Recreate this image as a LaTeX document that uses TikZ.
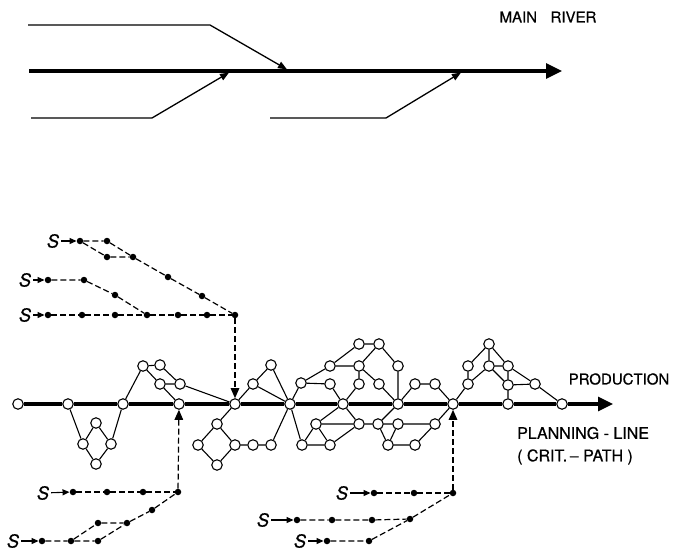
\documentclass[tikz,border=0pt]{standalone}
\usepackage{fontspec}
\setmainfont{TeX Gyre Heros}
\newfontfamily\lblfont[FakeBold=0.6]{TeX Gyre Heros}
\usetikzlibrary{arrows.meta}
\begin{document}
\begin{tikzpicture}[x=1pt,y=-1pt,
  nd/.style={circle,draw,fill=white,inner sep=0pt,minimum size=10.5pt,line width=1.1pt},
  dt/.style={circle,fill=black,inner sep=0pt,minimum size=6.5pt},
  edg/.style={line width=1.1pt},
  mainl/.style={line width=3.2pt},
  dsh/.style={line width=1.2pt,dash pattern=on 6pt off 3pt},
  trib/.style={line width=1.3pt},
  lbl/.style={font=\lblfont\fontsize{15}{17}\selectfont, inner sep=0pt},
  lblb/.style={font=\lblfont\fontsize{16}{18}\selectfont, inner sep=0pt},
  slbl/.style={font=\lblfont\fontsize{18}{20}\selectfont\itshape, inner sep=0pt},
  sarr/.style={line width=1.1pt,shorten <=2pt,-{Triangle[length=7pt,width=6pt]}},
  darr/.style={dsh,-{Triangle[length=10pt,width=8.5pt]}},
]
\useasboundingbox (0,0) rectangle (674,551);
% ---------------- main river ----------------
\coordinate (r0) at (29,71);
\coordinate (rE) at (562,71);
\draw[mainl,-{Triangle[length=16pt,width=15pt]}] (r0) -- (rE);
\coordinate (t1a) at (28,25); \coordinate (t1b) at (210,25); \coordinate (t1c) at (287,69.4);
\coordinate (t2a) at (31,118); \coordinate (t2b) at (152,118); \coordinate (t2c) at (229,72.6);
\coordinate (t3a) at (270,118); \coordinate (t3b) at (386,118); \coordinate (t3c) at (461,72.6);
\draw[trib,-{Triangle[length=9pt,width=7pt]}] (t1a) -- (t1b) -- (t1c);
\draw[trib,-{Triangle[length=9pt,width=7pt]}] (t2a) -- (t2b) -- (t2c);
\draw[trib,-{Triangle[length=9pt,width=7pt]}] (t3a) -- (t3b) -- (t3c);
\node[lbl] (mr) at (548,17) {MAIN\hspace{0.9em}RIVER};
% ---------------- production line nodes ----------------
\node[nd] (m1) at (18,404) {};
\node[nd] (m2) at (68,404) {};
\node[nd] (m3) at (123,404) {};
\node[nd] (m4) at (179,404) {};
\node[nd] (m5) at (235,404) {};
\node[nd] (m6) at (290,404) {};
\node[nd] (m7) at (343,404) {};
\node[nd] (m8) at (398,404) {};
\node[nd] (m9) at (453,404) {};
\node[nd] (m10) at (508,404) {};
\node[nd] (m11) at (562,404) {};
\coordinate (pE) at (613,404);
\draw[mainl] (m1) -- (m2) -- (m3) -- (m4) -- (m5) -- (m6) -- (m7) -- (m8) -- (m9) -- (m10) -- (m11);
\draw[mainl,-{Triangle[length=15pt,width=14pt]}] (m11) -- (pE);
% diamond A
\node[nd] (a1) at (96,423) {};
\node[nd] (a2) at (83,444) {};
\node[nd] (a3) at (111,444) {};
\node[nd] (a4) at (96,464) {};
\draw[edg] (m2) -- (a2) (m3) -- (a3) (a2) -- (a1) -- (a3) (a2) -- (a4) -- (a3);
% upper B
\node[nd] (b1) at (143,366) {};
\node[nd] (b2) at (160,365) {};
\node[nd] (b3) at (160,384) {};
\node[nd] (b4) at (180,384) {};
\draw[edg] (m3) -- (b1) -- (b2) (b1) -- (b3) -- (m4) (b2) -- (b4) (b3) -- (b4) -- (m5);
% diamond C
\node[nd] (c1) at (217,424) {};
\node[nd] (c2) at (198,445) {};
\node[nd] (c3) at (235,445) {};
\node[nd] (c4) at (217,465) {};
\node[nd] (d1) at (253,445) {};
\node[nd] (d2) at (271,445) {};
\draw[edg] (m5) -- (c1) -- (c2) -- (c4) -- (c3) -- (c1) (c3) -- (d1) -- (d2) -- (m6);
% upper D
\node[nd] (e1) at (253,384) {};
\node[nd] (e2) at (271,365) {};
\draw[edg] (m5) -- (e1) -- (e2) -- (m6) (e1) -- (m6);
% lower middle
\node[nd] (f1) at (302,445) {};
\node[nd] (f2) at (316,424) {};
\node[nd] (f3) at (330,445) {};
\node[nd] (f4) at (359,424) {};
\node[nd] (f5) at (378,424) {};
\node[nd] (f6) at (398,424) {};
\node[nd] (f7) at (388,445) {};
\node[nd] (f8) at (415,445) {};
\node[nd] (f9) at (435,424) {};
\draw[edg] (m6) -- (f1) -- (f2) -- (f3) -- (f1) (f2) -- (m7) (f2) -- (f4) (f3) -- (f4) (m7) -- (f4) -- (f5) -- (m8)
  (f5) -- (f7) (f5) -- (f6) -- (f7) -- (f8) -- (f9) -- (f6) (f9) -- (m9);
% upper middle
\node[nd] (g1) at (301,383) {};
\node[nd] (g2) at (330,366) {};
\node[nd] (g3) at (330,384) {};
\node[nd] (g4) at (359,344) {};
\node[nd] (g5) at (379,344) {};
\node[nd] (g6) at (359,366) {};
\node[nd] (g7) at (359,384) {};
\node[nd] (g8) at (379,384) {};
\node[nd] (g9) at (398,366) {};
\node[nd] (h1) at (415,384) {};
\node[nd] (h2) at (435,384) {};
\draw[edg] (m6) -- (g1) -- (g2) (g1) -- (g3) (g2) -- (g4) -- (g5) (g2) -- (g6) (g5) -- (g6) (g5) -- (g9) -- (m8)
  (g6) -- (g7) (g6) -- (g8) -- (m8) (g3) -- (m7) (g7) -- (m7) (m8) -- (h1) -- (h2) -- (m9);
% right cluster
\node[nd] (k1) at (468,384) {};
\node[nd] (k2) at (468,366) {};
\node[nd] (k3) at (489,344) {};
\node[nd] (k4) at (489,366) {};
\node[nd] (k5) at (508,366) {};
\node[nd] (k6) at (508,385) {};
\node[nd] (k7) at (535,384) {};
\draw[edg] (m9) -- (k1) -- (k2) -- (k3) (k1) -- (k4) (k3) -- (k4) (k3) -- (k5) (k4) -- (k5) (k4) -- (k6)
  (k5) -- (k6) (k6) -- (k7) (k5) -- (k7) -- (m11) (k6) -- (m10);
% labels
\node[lbl] (prod) at (619,379) {PRODUCTION};
\node[lblb,anchor=west] (plan) at (517,433) {PLANNING - LINE};
\node[lblb,anchor=west] (crit) at (517,457) {( CRIT.\,– PATH )};
% ---------------- supply lines, top left ----------------
\node[slbl] (s1) at (53,241) {S};
\node[dt] (p1) at (80,241) {};
\node[dt] (p2) at (107,241) {};
\node[dt] (p3) at (107,257) {};
\node[dt] (p4) at (133,257) {};
\node[dt] (p5) at (168,277) {};
\node[dt] (p6) at (202,296) {};
\node[dt] (p7) at (235,315) {};
\node[slbl] (s2) at (25,280) {S};
\node[dt] (q1) at (48,280) {};
\node[dt] (q2) at (84,280) {};
\node[dt] (q3) at (115,295) {};
\node[slbl] (s3) at (25,315) {S};
\node[dt] (u1) at (48,315) {};
\node[dt] (u2) at (82,315) {};
\node[dt] (u3) at (115,315) {};
\node[dt] (u4) at (147,315) {};
\node[dt] (u5) at (178,315) {};
\node[dt] (u6) at (207,315) {};
\draw[sarr] (s1) -- (p1);
\draw[sarr] (s2) -- (q1);
\draw[sarr] (s3) -- (u1);
\draw[dsh] (p1) -- (p2) -- (p4) (p1) -- (p3) -- (p4) -- (p5) -- (p6) -- (p7);
\draw[dsh] (q1) -- (q2) -- (q3) -- (u4);
\draw[dsh] (u1) -- (u2) -- (u3) -- (u4) -- (u5) -- (u6) -- (p7);
\draw[darr] (p7) -- (m5);
% ---------------- supply lines, bottom left ----------------
\node[slbl] (s4) at (43,493) {S};
\node[dt] (v1) at (73,492) {};
\node[dt] (v2) at (107,492) {};
\node[dt] (v3) at (143,492) {};
\node[dt] (v4) at (178,492) {};
\node[slbl] (s5) at (13,541) {S};
\node[dt] (w1) at (42,541) {};
\node[dt] (w2) at (71,541) {};
\node[dt] (w3) at (98,541) {};
\node[dt] (w4) at (98,523) {};
\node[dt] (w5) at (127,523) {};
\node[dt] (w6) at (152,510) {};
\draw[sarr] (s4) -- (v1);
\draw[sarr] (s5) -- (w1);
\draw[dsh] (v1) -- (v2) -- (v3) -- (v4);
\draw[dsh] (w1) -- (w2) -- (w3) -- (w5) (w2) -- (w4) -- (w5) -- (w6) -- (v4);
\draw[darr] (v4) -- (m4);
% ---------------- supply lines, bottom right ----------------
\node[slbl] (s6) at (342,493) {S};
\node[dt] (x1) at (374,493) {};
\node[dt] (x2) at (414,493) {};
\node[dt] (x3) at (453,493) {};
\node[slbl] (s7) at (263,520) {S};
\node[dt] (y1) at (297,520) {};
\node[dt] (y2) at (332,520) {};
\node[dt] (y3) at (372,520) {};
\node[dt] (y4) at (410,519) {};
\node[slbl] (s8) at (300,541) {S};
\node[dt] (z1) at (327,541) {};
\node[dt] (z2) at (369,541) {};
\draw[sarr] (s6) -- (x1);
\draw[sarr] (s7) -- (y1);
\draw[sarr] (s8) -- (z1);
\draw[dsh] (x1) -- (x2) -- (x3);
\draw[dsh] (y1) -- (y2) -- (y3) -- (y4) -- (x3);
\draw[dsh] (z1) -- (z2) -- (y4);
\draw[darr] (x3) -- (m9);
\end{tikzpicture}
\end{document}
